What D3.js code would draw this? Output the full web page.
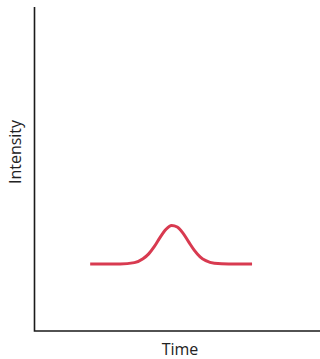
<!DOCTYPE html>
<html><head><meta charset="utf-8">
<script src="https://cdn.jsdelivr.net/npm/d3@7"></script>
<style>body{margin:0;background:#fff}svg{display:block}</style>
</head><body>
<svg id="c" width="320" height="359"></svg>
<script>
const times = [1.95, 2.5, 3.0, 3.5, 3.8, 4.0, 4.2, 4.4, 4.6, 4.8, 5.0, 5.2, 5.4, 5.6, 5.8, 6.0, 6.3, 6.8, 7.62];
const intensity = [2.07, 2.07, 2.07, 2.11, 2.23, 2.38, 2.61, 2.89, 3.13, 3.26, 3.21, 3.02, 2.75, 2.49, 2.29, 2.17, 2.09, 2.07, 2.07];
const xLabel = "Time";
const yLabel = "Intensity";

const svg = d3.select("#c");
const x = d3.scaleLinear().domain([0, 10]).range([34.5, 320]);
const y = d3.scaleLinear().domain([0, 10]).range([331, 7]);

svg.append("path")
  .attr("d", `M${x(0)},${y(10)}V${y(0)}H${x(10)}`)
  .attr("fill", "none").attr("stroke", "#1a1a1a").attr("stroke-width", 1.6);

const data = times.map((t, i) => ({t, v: intensity[i]}));
svg.append("path").datum(data)
  .attr("d", d3.line().x(d => x(d.t)).y(d => y(d.v)).curve(d3.curveMonotoneX))
  .attr("fill", "none").attr("stroke", "#d83a50").attr("stroke-width", 3)
  .attr("stroke-linecap", "butt");

svg.append("text").text(xLabel)
  .attr("x", 180).attr("y", 355).attr("text-anchor", "middle")
  .attr("font-family", "Open Sans").attr("font-size", 16).attr("fill", "#222");
svg.append("text").text(yLabel)
  .attr("transform", `translate(21,152) rotate(-90)`).attr("text-anchor", "middle")
  .attr("font-family", "Open Sans").attr("font-size", 16).attr("fill", "#222");
</script>
</body></html>
